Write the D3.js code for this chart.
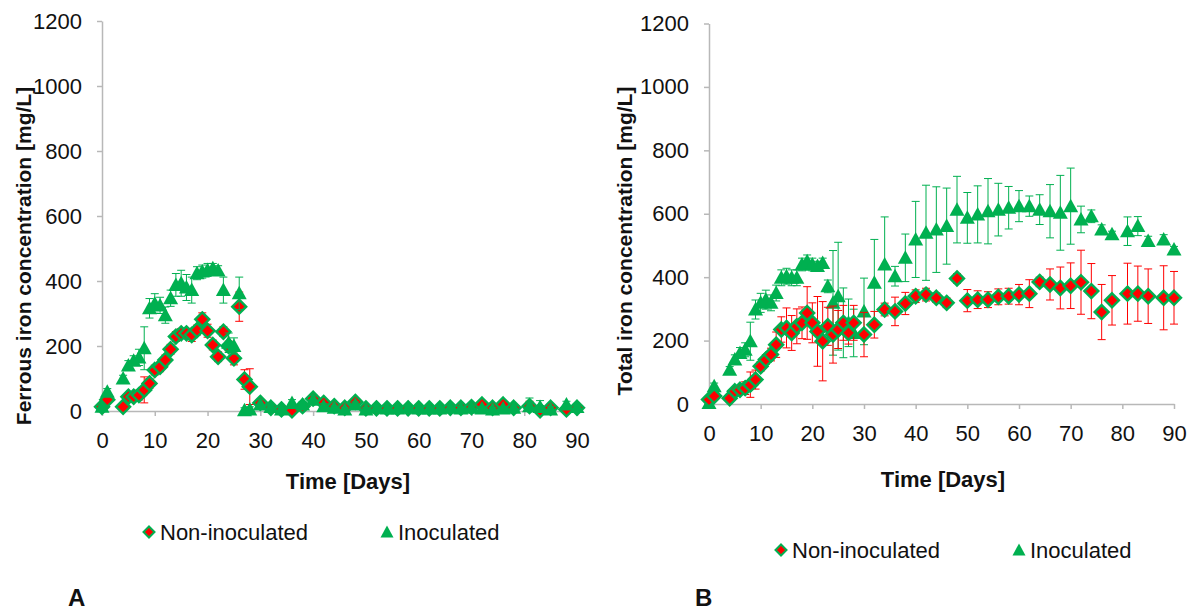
<!DOCTYPE html>
<html>
<head>
<meta charset="utf-8">
<script src="https://cdn.jsdelivr.net/npm/d3@7"></script>
<style>
  body { margin: 0; background: #fff; }
  svg { font-family: Arial, "Liberation Sans", sans-serif; }
  .tick text { font-size: 22px; fill: #111; }
  .axis-title { font-weight: bold; fill: #111; }
  .legend text { font-size: 22px; fill: #111; }
  .panel-label { font-size: 24px; font-weight: bold; fill: #111; }
</style>
</head>
<body>
<div id="app"></div>
<script>
// sampling days (same for both panels)
const days = [0, 1, 4, 5, 6, 7, 8, 9, 10, 11, 12, 13, 14, 15, 16, 17, 18, 19, 20, 21, 22, 23, 24, 25, 26, 27, 28,
  30, 32, 34, 36, 38, 40, 42, 44, 46, 48, 50, 52, 54, 56, 58, 60, 62, 64, 66, 68, 70, 72, 74, 76, 78,
  81, 83, 85, 88, 90];

// A - ferrous iron
const ferrousNonInoc = [13, 35, 13, 44, 44, 49, 65, 85, 126, 136, 157, 190, 229, 239, 239, 234, 249, 282, 247, 203, 167, 244, 200, 162, 321, 97, 75,
  25, 10, 5, 2, 15, 38, 25, 15, 10, 28, 8, 8, 8, 8, 8, 8, 8, 8, 10, 10, 12, 20, 10, 20, 10,
  15, 2, 10, 5, 10];
const ferrousNonInocErr = [5, 10, 5, 10, 10, 15, 40, 15, 15, 15, 15, 15, 15, 15, 15, 20, 15, 20, 20, 15, 15, 15, 15, 20, 45, 30, 55,
  10, 8, 6, 6, 10, 12, 10, 8, 6, 10, 6, 6, 6, 6, 6, 6, 6, 6, 6, 8, 6, 8, 10, 8, 8,
  15, 15, 8, 8, 8];
const ferrousInoc = [13, 59, 100, 140, 155, 165, 193, 316, 331, 325, 295, 347, 388, 393, 380, 372, 424, 429, 434, 439, 432, 372, 210, 200, 362, 2, 5,
  20, 12, 5, 25, 20, 35, 15, 10, 5, 20, 5, 10, 8, 8, 10, 8, 8, 8, 10, 8, 10, 8, 5, 8, 10,
  15, 12, 5, 20, 12];
const ferrousInocErr = [5, 10, 10, 15, 15, 25, 66, 30, 30, 25, 25, 25, 35, 40, 40, 40, 20, 20, 20, 15, 15, 40, 30, 25, 50, 8, 8,
  15, 8, 6, 10, 8, 12, 8, 6, 6, 8, 6, 6, 6, 6, 6, 6, 6, 6, 6, 6, 6, 6, 6, 6, 6,
  25, 20, 8, 10, 8];

// B - total iron
const totalNonInoc = [14, 25, 18, 40, 45, 50, 61, 77, 119, 140, 156, 187, 235, 240, 224, 245, 256, 287, 256, 229, 198, 245, 219, 235, 256, 224, 256,
  219, 250, 298, 292, 317, 340, 345, 335, 319, 396, 326, 329, 329, 338, 340, 345, 348, 385, 377, 366, 373, 384, 356, 290, 327,
  348, 348, 340, 335, 335];
const totalNonInocErr = [5, 10, 5, 10, 10, 20, 40, 30, 15, 15, 20, 40, 40, 63, 55, 55, 50, 83, 63, 110, 125, 60, 90, 60, 55, 35, 55,
  70, 42, 20, 45, 35, 20, 20, 15, 15, 15, 35, 28, 25, 25, 25, 32, 44, 15, 49, 66, 72, 101, 87, 87, 78,
  96, 87, 86, 101, 83];
const totalInoc = [3, 56, 108, 140, 161, 171, 198, 298, 319, 329, 319, 350, 398, 403, 398, 398, 440, 450, 440, 435, 445, 371, 319, 340, 256, 256, 224,
  292, 382, 440, 403, 461, 519, 540, 550, 561, 613, 587, 598, 608, 613, 619, 624, 624, 613, 608, 603, 624, 582, 592, 550, 535,
  545, 561, 514, 519, 487];
const totalInocErr = [5, 10, 10, 15, 17, 22, 60, 30, 30, 30, 25, 25, 25, 25, 25, 25, 20, 20, 20, 15, 15, 20, 165, 170, 110, 75, 75,
  105, 137, 150, 31, 75, 120, 150, 135, 120, 105, 80, 90, 103, 83, 67, 49, 32, 47, 84, 118, 120, 42, 20, 15, 10,
  45, 30, 15, 15, 10];

const xTicks = [0, 10, 20, 30, 40, 50, 60, 70, 80, 90];
const yTicks = [0, 200, 400, 600, 800, 1000, 1200];
const seriesNames = ['Non-inoculated', 'Inoculated'];

const GREEN = '#00b050';
const RED = '#ff0000';
const AXIS = '#b8b8b8';

const diamondPath = 'M0,-7L7,0L0,7L-7,0Z';
const trianglePath = 'M0,-7.5L7.5,6L-7.5,6Z';
const legendDiamond = 'M0,-5.5L5.5,0L0,5.5L-5.5,0Z';
const legendTriangle = 'M0,-6.5L6.5,5.5L-6.5,5.5Z';

function render() {
  const svg = d3.select('#app').append('svg').attr('width', 1189).attr('height', 612);

  drawPanel(svg, {
    left: 102, right: 577, bottom: 411, top: 21,
    yTitle: 'Ferrous iron concentration [mg/L]', yTitleX: 31, yTitleY: 256,
    xTitleX: 348, xTitleY: 489,
    legendY: 532, legendX: [149, 387],
    label: 'A', labelX: 68,
    non: ferrousNonInoc, nonErr: ferrousNonInocErr,
    inoc: ferrousInoc, inocErr: ferrousInocErr,
    inocOnTop: true
  });

  drawPanel(svg, {
    left: 709, right: 1174, bottom: 404, top: 23.5,
    yTitle: 'Total iron concentration [mg/L]', yTitleX: 632, yTitleY: 241,
    xTitleX: 943, xTitleY: 487,
    legendY: 550, legendX: [781, 1019],
    label: 'B', labelX: 695,
    non: totalNonInoc, nonErr: totalNonInocErr,
    inoc: totalInoc, inocErr: totalInocErr,
    inocOnTop: false
  });
}

function drawPanel(svg, p) {
  const x = d3.scaleLinear([0, 90], [p.left, p.right]);
  const y = d3.scaleLinear([0, 1200], [p.bottom, p.top]);
  const g = svg.append('g');

  // axes
  const yAxis = g.append('g')
    .attr('transform', `translate(${p.left},0)`)
    .call(d3.axisLeft(y).tickValues(yTicks).tickFormat(d3.format('d'))
      .tickSize(5).tickSizeOuter(0).tickPadding(15));
  const xAxis = g.append('g')
    .attr('transform', `translate(0,${p.bottom})`)
    .call(d3.axisBottom(x).tickValues(xTicks).tickFormat(d3.format('d'))
      .tickSize(5).tickSizeOuter(0).tickPadding(16));
  [yAxis, xAxis].forEach(a => {
    a.select('.domain').attr('stroke', AXIS).attr('stroke-width', 1.5);
    a.selectAll('.tick line').attr('stroke', AXIS).attr('stroke-width', 1.5);
    a.attr('font-size', null).attr('font-family', null);
  });

  // titles
  g.append('text')
    .attr('class', 'axis-title')
    .attr('font-size', 21)
    .attr('text-anchor', 'middle')
    .attr('transform', `translate(${p.yTitleX},${p.yTitleY}) rotate(-90)`)
    .text(p.yTitle);
  g.append('text')
    .attr('class', 'axis-title')
    .attr('font-size', 22)
    .attr('text-anchor', 'middle')
    .attr('x', p.xTitleX)
    .attr('y', p.xTitleY)
    .text('Time [Days]');

  // data
  const rows = (vals, errs) => days.map((d, i) => ({ day: d, v: vals[i], e: errs[i] }));
  const nonRows = rows(p.non, p.nonErr);
  const inocRows = rows(p.inoc, p.inocErr);
  const order = p.inocOnTop
    ? [['non', nonRows], ['inoc', inocRows]]
    : [['inoc', inocRows], ['non', nonRows]];

  order.forEach(([kind, data]) => {
    const color = kind === 'non' ? RED : GREEN;
    const eb = g.append('g').attr('class', 'err ' + kind)
      .attr('stroke', color).attr('stroke-width', 1).attr('fill', 'none');
    const bars = eb.selectAll('g').data(data.filter(d => d.e > 0)).join('g');
    bars.append('line')
      .attr('x1', d => x(d.day)).attr('x2', d => x(d.day))
      .attr('y1', d => y(Math.max(0, d.v - d.e))).attr('y2', d => y(d.v + d.e));
    bars.append('line')
      .attr('x1', d => x(d.day) - 4).attr('x2', d => x(d.day) + 4)
      .attr('y1', d => y(d.v + d.e)).attr('y2', d => y(d.v + d.e));
    bars.filter(d => d.v - d.e > 0).append('line')
      .attr('x1', d => x(d.day) - 4).attr('x2', d => x(d.day) + 4)
      .attr('y1', d => y(d.v - d.e)).attr('y2', d => y(d.v - d.e));

    const marks = g.append('g').attr('class', 'marks ' + kind);
    marks.selectAll('path').data(data).join('path')
      .attr('transform', d => `translate(${x(d.day)},${y(d.v)})`)
      .attr('d', kind === 'non' ? diamondPath : trianglePath)
      .attr('fill', kind === 'non' ? RED : GREEN)
      .attr('stroke', kind === 'non' ? GREEN : 'none')
      .attr('stroke-width', 2.4);
  });

  // legend
  const legend = g.append('g').attr('class', 'legend');
  seriesNames.forEach((name, i) => {
    const lx = p.legendX[i];
    legend.append('path')
      .attr('transform', `translate(${lx},${p.legendY})`)
      .attr('d', i === 0 ? legendDiamond : legendTriangle)
      .attr('fill', i === 0 ? RED : GREEN)
      .attr('stroke', i === 0 ? GREEN : 'none')
      .attr('stroke-width', 2);
    legend.append('text')
      .attr('x', lx + 11)
      .attr('y', p.legendY + 8)
      .text(name);
  });

  svg.append('text')
    .attr('class', 'panel-label')
    .attr('x', p.labelX)
    .attr('y', 606)
    .text(p.label);
}

render();
</script>
</body>
</html>
